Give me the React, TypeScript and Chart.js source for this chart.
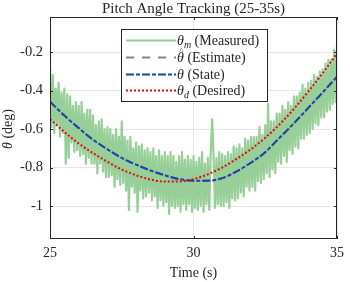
import React, { useEffect, useRef } from "react";
import { Chart, registerables } from "chart.js";

Chart.register(...registerables);

const TITLE = "Pitch Angle Tracking (25-35s)";
const X_LABEL = "Time (s)";
const Y_LABEL_SYMBOL = "θ";
const Y_LABEL_UNIT = " (deg)";

const X_TICKS = [25, 30, 35];
const Y_TICKS = [-1, -0.8, -0.6, -0.4, -0.2];
const X_MIN = 25;
const X_MAX = 35;
const Y_MIN = -1.171;
const Y_MAX = -0.018;

const CURVE_TIMES = [25, 25.5, 26, 26.5, 27, 27.5, 28, 28.5, 29, 29.5, 30, 30.5, 31, 31.5, 32, 32.5, 33, 33.5, 34, 34.5, 35];
const STATE = [-0.458, -0.53, -0.595, -0.655, -0.705, -0.75, -0.785, -0.815, -0.84, -0.86, -0.868, -0.868, -0.855, -0.82, -0.775, -0.72, -0.645, -0.57, -0.49, -0.41, -0.328];
const ESTIMATE = [-0.457, -0.529, -0.595, -0.655, -0.705, -0.75, -0.785, -0.815, -0.84, -0.86, -0.868, -0.868, -0.855, -0.82, -0.775, -0.72, -0.645, -0.57, -0.49, -0.41, -0.329];
const DESIRED = [-0.548, -0.615, -0.675, -0.725, -0.77, -0.81, -0.84, -0.862, -0.873, -0.872, -0.86, -0.835, -0.8, -0.755, -0.705, -0.645, -0.575, -0.495, -0.405, -0.31, -0.207];

const MEASURED_START = 25;
const MEASURED_STEP = 0.05;
const MEASURED = [
  -0.27, -0.59, -0.32, -0.62, -0.39, -0.58, -0.36, -0.64, -0.41, -0.62,
  -0.39, -0.78, -0.42, -0.75, -0.43, -0.67, -0.48, -0.72, -0.46, -0.71,
  -0.48, -0.74, -0.46, -0.73, -0.52, -0.78, -0.50, -0.75, -0.50, -0.78,
  -0.53, -0.78, -0.58, -0.83, -0.56, -0.78, -0.55, -0.82, -0.60, -0.85,
  -0.59, -0.85, -0.60, -0.84, -0.63, -0.90, -0.60, -0.86, -0.64, -0.89,
  -0.56, -0.88, -0.64, -0.92, -0.66, -1.02, -0.64, -0.90, -0.70, -0.93,
  -0.67, -1.03, -0.69, -0.92, -0.68, -0.96, -0.71, -0.95, -0.70, -0.93,
  -0.72, -0.97, -0.70, -0.95, -0.74, -1.01, -0.71, -0.97, -0.74, -1.00,
  -0.72, -0.98, -0.74, -1.04, -0.72, -1.00, -0.74, -1.01, -0.77, -1.00,
  -0.74, -1.03, -0.72, -0.99, -0.76, -1.02, -0.74, -0.99, -0.76, -1.03,
  -0.74, -1.01, -0.77, -1.02, -0.75, -1.00, -0.72, -1.03, -0.78, -0.99,
  -0.75, -1.02, -0.73, -0.55, -0.74, -1.01, -0.75, -0.99, -0.72, -1.00,
  -0.73, -1.00, -0.74, -0.98, -0.72, -1.01, -0.73, -0.96, -0.69, -0.97,
  -0.70, -0.96, -0.68, -0.93, -0.70, -0.95, -0.65, -0.90, -0.66, -0.92,
  -0.64, -0.90, -0.64, -0.92, -0.64, -0.87, -0.59, -0.88, -0.63, -0.86,
  -0.58, -0.83, -0.47, -0.85, -0.56, -0.81, -0.56, -0.83, -0.52, -0.77,
  -0.52, -0.78, -0.48, -0.74, -0.50, -0.77, -0.46, -0.71, -0.48, -0.73,
  -0.43, -0.69, -0.43, -0.70, -0.41, -0.65, -0.37, -0.65, -0.39, -0.63,
  -0.36, -0.62, -0.35, -0.60, -0.32, -0.57, -0.33, -0.58, -0.30, -0.54,
  -0.29, -0.54, -0.26, -0.51, -0.24, -0.50, -0.24, -0.47, -0.19, -0.46, -0.16,
];

const LEGEND_NAMES = ["(Measured)", "(Estimate)", "(State)", "(Desired)"];
const LEGEND_SUBS = ["m", "", "", "d"];
const LEGEND_HATS = [false, true, false, false];

const GREEN = "rgb(152,207,152)";
const GREY = "#858585";
const BLUE = "#1a44a8";
const RED = "#e00b0b";
const AXIS = "#262626";
const GRID = "#e6e6e6";
const FONT = "'Liberation Serif', 'Times New Roman', serif";

const WIDTH = 350;
const HEIGHT = 282;

const decorPlugin = {
  id: "decor",
  afterDraw(chart: any) {
    const { ctx, chartArea: a, scales } = chart;
    const xs = scales.x;
    const ys = scales.y;
    ctx.save();
    ctx.strokeStyle = AXIS;
    ctx.lineWidth = 1;
    ctx.strokeRect(a.left + 0.5, a.top + 0.5, a.right - a.left - 1, a.bottom - a.top - 1);
    ctx.beginPath();
    X_TICKS.forEach((v) => {
      const px = Math.round(xs.getPixelForValue(v)) + 0.5;
      ctx.moveTo(px, a.bottom);
      ctx.lineTo(px, a.bottom - 3);
      ctx.moveTo(px, a.top);
      ctx.lineTo(px, a.top + 3);
    });
    Y_TICKS.forEach((v) => {
      const py = Math.round(ys.getPixelForValue(v)) + 0.5;
      ctx.moveTo(a.left, py);
      ctx.lineTo(a.left + 3, py);
      ctx.moveTo(a.right, py);
      ctx.lineTo(a.right - 3, py);
    });
    ctx.stroke();

    ctx.fillStyle = AXIS;
    ctx.textAlign = "center";
    ctx.textBaseline = "alphabetic";
    ctx.font = `15px ${FONT}`;
    ctx.fillText(TITLE, (a.left + a.right) / 2, 12.5);

    ctx.font = `14px ${FONT}`;
    ctx.fillText(X_LABEL, (a.left + a.right) / 2, 276.5);

    ctx.save();
    ctx.translate(12, (a.top + a.bottom) / 2 + 1);
    ctx.rotate(-Math.PI / 2);
    ctx.textAlign = "left";
    ctx.font = `italic 14px ${FONT}`;
    const w1 = ctx.measureText(Y_LABEL_SYMBOL).width;
    ctx.font = `14px ${FONT}`;
    const w2 = ctx.measureText(Y_LABEL_UNIT).width;
    const start = -(w1 + w2) / 2;
    ctx.font = `italic 14px ${FONT}`;
    ctx.fillText(Y_LABEL_SYMBOL, start, 0);
    ctx.font = `14px ${FONT}`;
    ctx.fillText(Y_LABEL_UNIT, start + w1, 0);
    ctx.restore();

    const lx = 121, ly = 29, lw = 146, lh = 72;
    ctx.fillStyle = "#ffffff";
    ctx.fillRect(lx, ly, lw, lh);
    ctx.strokeStyle = AXIS;
    ctx.lineWidth = 1;
    ctx.strokeRect(lx + 0.5, ly + 0.5, lw, lh);
    const rows = [40.5, 57.5, 74.5, 90.5];
    const datasets = chart.data.datasets;
    datasets.forEach((ds: any, i: number) => {
      const y = rows[i];
      ctx.save();
      ctx.strokeStyle = ds.borderColor;
      ctx.lineWidth = 2;
      ctx.setLineDash(ds.borderDash || []);
      ctx.beginPath();
      ctx.moveTo(126, y);
      ctx.lineTo(176, y);
      ctx.stroke();
      ctx.restore();
      ctx.fillStyle = AXIS;
      ctx.textAlign = "left";
      ctx.textBaseline = "alphabetic";
      let x = 177;
      const base = y + 4.5;
      ctx.font = `italic 14px ${FONT}`;
      ctx.fillText(Y_LABEL_SYMBOL, x, base);
      const tw = ctx.measureText(Y_LABEL_SYMBOL).width;
      if (LEGEND_HATS[i]) {
        ctx.font = `9px ${FONT}`;
        ctx.textAlign = "center";
        ctx.fillText("^", x + tw / 2 + 1, base - 8.5);
        ctx.textAlign = "left";
      }
      x += tw;
      if (LEGEND_SUBS[i]) {
        ctx.font = `italic 10px ${FONT}`;
        ctx.fillText(LEGEND_SUBS[i], x, base + 3);
        x += ctx.measureText(LEGEND_SUBS[i]).width;
      }
      ctx.font = `14px ${FONT}`;
      ctx.fillText(" " + LEGEND_NAMES[i], x, base);
    });
    ctx.restore();
  },
};

export default function App() {
  const ref = useRef<HTMLCanvasElement | null>(null);
  useEffect(() => {
    document.body.style.margin = "0";
    const canvas = ref.current;
    if (!canvas) return;
    const curve = (vals: number[]) => vals.map((v, i) => ({ x: CURVE_TIMES[i], y: v }));
    const measured = MEASURED.map((v, i) => ({ x: MEASURED_START + i * MEASURED_STEP, y: v }));
    const chart = new Chart(canvas, {
      type: "line",
      data: {
        datasets: [
          { label: "θm (Measured)", data: measured, borderColor: GREEN, borderWidth: 2.2, pointRadius: 0, tension: 0, borderJoinStyle: "round", order: 4 },
          { label: "θ̂ (Estimate)", data: curve(ESTIMATE), borderColor: GREY, borderWidth: 2, borderDash: [8, 8], pointRadius: 0, cubicInterpolationMode: "monotone", order: 3 },
          { label: "θ (State)", data: curve(STATE), borderColor: BLUE, borderWidth: 2, borderDash: [8, 2, 4, 2], pointRadius: 0, cubicInterpolationMode: "monotone", order: 2 },
          { label: "θd (Desired)", data: curve(DESIRED), borderColor: RED, borderWidth: 2, borderDash: [2, 2], pointRadius: 0, cubicInterpolationMode: "monotone", order: 1 },
        ] as any,
      },
      options: {
        animation: false,
        responsive: false,
        maintainAspectRatio: false,
        layout: { padding: { top: 17, right: 9, left: 0, bottom: 0 } },
        plugins: { legend: { display: false }, tooltip: { enabled: false }, title: { display: false } },
        scales: {
          x: {
            type: "linear",
            min: X_MIN,
            max: X_MAX,
            afterBuildTicks: (s: any) => { s.ticks = X_TICKS.map((v) => ({ value: v })); },
            afterFit: (s: any) => { s.height = 43; },
            ticks: { color: AXIS, padding: 6, maxRotation: 0, font: { family: FONT, size: 14 }, callback: (v: any) => String(v) },
            grid: { color: GRID, lineWidth: 1, drawTicks: false },
            border: { display: false },
          },
          y: {
            type: "linear",
            min: Y_MIN,
            max: Y_MAX,
            afterBuildTicks: (s: any) => { s.ticks = Y_TICKS.map((v) => ({ value: v })); },
            afterFit: (s: any) => { s.width = 50; },
            ticks: { color: AXIS, padding: 7, font: { family: FONT, size: 14.5 }, callback: (v: any) => String(Number(Number(v).toFixed(1))) },
            grid: { color: GRID, lineWidth: 1, drawTicks: false },
            border: { display: false },
          },
        },
      },
      plugins: [decorPlugin],
    });
    return () => chart.destroy();
  }, []);
  return (
    <div style={{ position: "absolute", left: 0, top: 0, width: WIDTH, height: HEIGHT, background: "#fff" }}>
      <canvas ref={ref} width={WIDTH} height={HEIGHT} style={{ width: WIDTH, height: HEIGHT, display: "block" }} />
    </div>
  );
}
